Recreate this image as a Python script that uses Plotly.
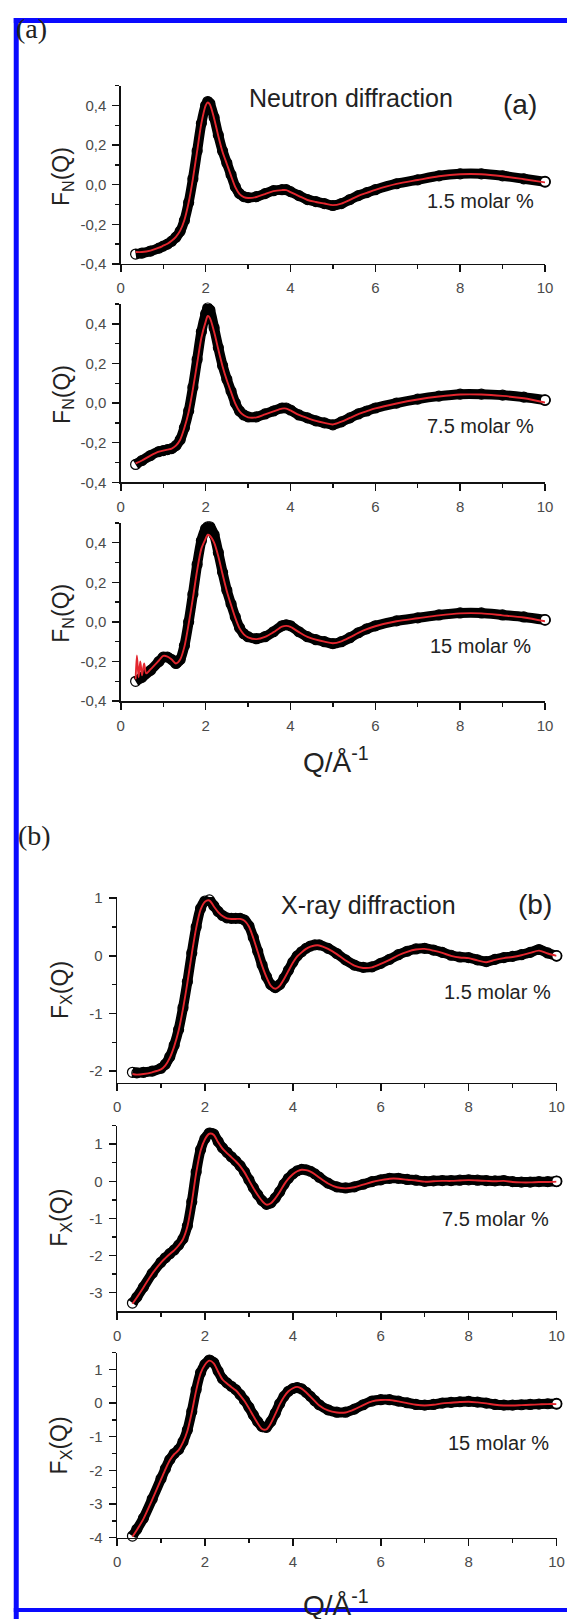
import plotly.graph_objects as go

W, H = 567, 1619
FONT = "Liberation Sans, Arial, Helvetica, sans-serif"
SERIF = "Liberation Serif, Times New Roman, serif"

# ---------------- data ----------------
q_a = [0.35, 0.5, 0.7, 0.9, 1.0, 1.1, 1.2, 1.3, 1.4, 1.5,
       1.6, 1.7, 1.8, 1.9, 2.0, 2.05, 2.1, 2.2, 2.3, 2.4,
       2.5, 2.6, 2.7, 2.8, 2.9, 3.0, 3.2, 3.4, 3.6, 3.8,
       3.9, 4.0, 4.2, 4.4, 4.6, 4.8, 5.0, 5.2, 5.4, 5.6,
       5.8, 6.0, 6.5, 7.0, 7.5, 8.0, 8.5, 9.0, 9.5, 10.0]

fn_15_exp = [-0.35, -0.345, -0.335, -0.32, -0.31, -0.30, -0.285, -0.265, -0.235, -0.18,
             -0.09, 0.03, 0.17, 0.31, 0.40, 0.42, 0.41, 0.34, 0.25, 0.17,
             0.11, 0.05, -0.01, -0.045, -0.06, -0.065, -0.06, -0.045, -0.03, -0.025,
             -0.025, -0.035, -0.055, -0.075, -0.085, -0.095, -0.105, -0.095, -0.075, -0.055,
             -0.04, -0.025, 0.005, 0.025, 0.045, 0.055, 0.055, 0.045, 0.03, 0.015]
fn_15_fit = [-0.34, -0.34, -0.333, -0.318, -0.308, -0.298, -0.283, -0.263, -0.232, -0.178,
             -0.09, 0.03, 0.17, 0.31, 0.40, 0.415, 0.405, 0.335, 0.245, 0.165,
             0.105, 0.045, -0.012, -0.047, -0.062, -0.067, -0.062, -0.047, -0.032, -0.027,
             -0.027, -0.037, -0.057, -0.077, -0.087, -0.095, -0.103, -0.095, -0.076, -0.056,
             -0.041, -0.026, 0.004, 0.024, 0.043, 0.053, 0.053, 0.043, 0.028, 0.012]

fn_75_exp = [-0.31, -0.29, -0.265, -0.245, -0.24, -0.235, -0.23, -0.215, -0.185, -0.125,
             -0.04, 0.08, 0.22, 0.36, 0.45, 0.48, 0.47, 0.38, 0.28, 0.19,
             0.12, 0.06, 0.0, -0.04, -0.06, -0.07, -0.07, -0.055, -0.04, -0.025,
             -0.025, -0.035, -0.06, -0.075, -0.09, -0.10, -0.11, -0.095, -0.075, -0.055,
             -0.04, -0.025, 0.0, 0.02, 0.035, 0.045, 0.045, 0.04, 0.03, 0.015]
fn_75_fit = [-0.305, -0.29, -0.265, -0.245, -0.24, -0.235, -0.23, -0.215, -0.185, -0.125,
             -0.045, 0.07, 0.2, 0.33, 0.41, 0.44, 0.43, 0.36, 0.27, 0.185,
             0.115, 0.055, -0.003, -0.042, -0.062, -0.072, -0.072, -0.057, -0.042, -0.028,
             -0.028, -0.037, -0.06, -0.076, -0.09, -0.10, -0.108, -0.094, -0.075, -0.056,
             -0.041, -0.027, -0.002, 0.018, 0.033, 0.043, 0.043, 0.036, 0.024, 0.003]

fn_150_exp = [-0.30, -0.28, -0.245, -0.20, -0.178, -0.178, -0.19, -0.21, -0.19, -0.12,
              0.0, 0.14, 0.29, 0.41, 0.47, 0.48, 0.48, 0.44, 0.35, 0.25,
              0.16, 0.09, 0.025, -0.03, -0.06, -0.075, -0.085, -0.075, -0.05, -0.02,
              -0.015, -0.02, -0.05, -0.075, -0.09, -0.10, -0.11, -0.10, -0.08, -0.055,
              -0.035, -0.02, 0.005, 0.02, 0.035, 0.045, 0.045, 0.035, 0.025, 0.01]
q_a3_fit = [0.35, 0.38, 0.42, 0.46, 0.5, 0.55, 0.6, 0.7,
            0.9, 1.0, 1.1, 1.2, 1.3, 1.4, 1.5,
            1.6, 1.7, 1.8, 1.9, 2.0, 2.05, 2.1, 2.2, 2.3, 2.4,
            2.5, 2.6, 2.7, 2.8, 2.9, 3.0, 3.2, 3.4, 3.6, 3.8,
            3.9, 4.0, 4.2, 4.4, 4.6, 4.8, 5.0, 5.2, 5.4, 5.6,
            5.8, 6.0, 6.5, 7.0, 7.5, 8.0, 8.5, 9.0, 9.5, 10.0]
fn_150_fit = [-0.29, -0.17, -0.28, -0.2, -0.27, -0.21, -0.26, -0.24,
              -0.195, -0.172, -0.175, -0.19, -0.21, -0.19, -0.125,
              -0.01, 0.12, 0.26, 0.37, 0.42, 0.44, 0.435, 0.40, 0.33, 0.24,
              0.155, 0.085, 0.02, -0.033, -0.063, -0.078, -0.087, -0.076, -0.052, -0.024,
              -0.02, -0.025, -0.052, -0.076, -0.09, -0.10, -0.108, -0.098, -0.078, -0.056,
              -0.037, -0.022, 0.003, 0.018, 0.033, 0.043, 0.043, 0.033, 0.022, 0.003]

q_b = [0.35, 0.45, 0.6, 0.8, 1.0, 1.1, 1.2, 1.3, 1.4, 1.5,
       1.6, 1.7, 1.8, 1.9, 2.0, 2.1, 2.2, 2.3, 2.4, 2.5,
       2.6, 2.7, 2.8, 2.9, 3.0, 3.1, 3.2, 3.3, 3.4, 3.5,
       3.6, 3.7, 3.8, 3.9, 4.0, 4.1, 4.2, 4.3, 4.4, 4.5,
       4.6, 4.8, 5.0, 5.2, 5.4, 5.6, 5.8, 6.0, 6.2, 6.4,
       6.6, 6.8, 7.0, 7.2, 7.4, 7.6, 7.8, 8.0, 8.2, 8.4,
       8.6, 8.8, 9.0, 9.2, 9.4, 9.6, 9.8, 10.0]

fx_15_exp = [-2.02, -2.03, -2.02, -2.0, -1.95, -1.88, -1.75, -1.55, -1.28, -0.90,
             -0.45, 0.05, 0.50, 0.82, 0.95, 0.97, 0.87, 0.77, 0.70, 0.66,
             0.65, 0.65, 0.65, 0.62, 0.52, 0.32, 0.08, -0.16, -0.36, -0.50,
             -0.55, -0.50, -0.39, -0.25, -0.11, 0.0, 0.07, 0.13, 0.17, 0.19,
             0.19, 0.13, 0.04, -0.07, -0.16, -0.20, -0.19, -0.13, -0.06, 0.02,
             0.08, 0.12, 0.13, 0.10, 0.06, 0.01, -0.02, -0.03, -0.07, -0.10,
             -0.06, -0.03, -0.01, 0.02, 0.06, 0.11, 0.05, 0.0]
fx_15_fit = [-2.05, -2.06, -2.05, -2.02, -1.97, -1.9, -1.77, -1.57, -1.3, -0.92,
             -0.47, 0.03, 0.48, 0.8, 0.94, 0.96, 0.86, 0.76, 0.69, 0.65,
             0.64, 0.64, 0.64, 0.61, 0.51, 0.31, 0.07, -0.17, -0.37, -0.52,
             -0.57, -0.52, -0.4, -0.26, -0.12, -0.01, 0.06, 0.12, 0.16, 0.18,
             0.18, 0.12, 0.03, -0.08, -0.17, -0.21, -0.2, -0.14, -0.07, 0.01,
             0.07, 0.11, 0.12, 0.09, 0.05, 0.0, -0.03, -0.04, -0.08, -0.11,
             -0.07, -0.04, -0.02, 0.01, 0.05, 0.09, 0.04, 0.0]

fx_75_exp = [-3.28, -3.12, -2.85, -2.48, -2.18, -2.06, -1.95, -1.85, -1.72, -1.55,
             -1.2, -0.55, 0.25, 0.85, 1.15, 1.30, 1.27, 1.07, 0.90, 0.78,
             0.66, 0.55, 0.42, 0.25, 0.04, -0.17, -0.36, -0.52, -0.62, -0.58,
             -0.45, -0.28, -0.08, 0.08, 0.20, 0.28, 0.32, 0.31, 0.27, 0.20,
             0.11, -0.05, -0.15, -0.18, -0.15, -0.08, -0.01, 0.04, 0.08, 0.08,
             0.05, 0.03, 0.0, 0.01, 0.02, 0.02, 0.03, 0.04, 0.03, 0.02,
             0.01, 0.02, -0.01, -0.02, -0.02, -0.01, -0.01, 0.0]
fx_75_fit = [-3.3, -3.13, -2.86, -2.49, -2.19, -2.07, -1.96, -1.86, -1.73, -1.56,
             -1.22, -0.58, 0.22, 0.82, 1.13, 1.28, 1.25, 1.05, 0.88, 0.76,
             0.65, 0.54, 0.41, 0.24, 0.03, -0.18, -0.37, -0.53, -0.63, -0.59,
             -0.46, -0.29, -0.09, 0.07, 0.19, 0.27, 0.31, 0.3, 0.26, 0.19,
             0.1, -0.06, -0.16, -0.19, -0.16, -0.09, -0.02, 0.03, 0.07, 0.07,
             0.04, 0.02, -0.01, 0.0, 0.01, 0.01, 0.02, 0.03, 0.02, 0.01,
             0.0, 0.01, -0.02, -0.03, -0.03, -0.02, -0.02, -0.01]

fx_150_exp = [-3.95, -3.75, -3.42, -2.85, -2.25, -1.95, -1.68, -1.50, -1.38, -1.15,
              -0.80, -0.25, 0.40, 0.90, 1.15, 1.28, 1.20, 0.95, 0.72, 0.60,
              0.50, 0.40, 0.25, 0.08, -0.12, -0.35, -0.55, -0.70, -0.72, -0.55,
              -0.30, -0.02, 0.20, 0.35, 0.43, 0.46, 0.42, 0.32, 0.20, 0.07,
              -0.05, -0.20, -0.27, -0.27, -0.18, -0.05, 0.06, 0.10, 0.10, 0.06,
              0.01, -0.04, -0.06, -0.04, 0.0, 0.02, 0.04, 0.05, 0.03, 0.0,
              -0.04, -0.06, -0.06, -0.05, -0.04, -0.03, -0.02, -0.02]
fx_150_fit = [-3.97, -3.77, -3.44, -2.87, -2.27, -1.97, -1.7, -1.52, -1.4, -1.17,
              -0.83, -0.28, 0.37, 0.88, 1.14, 1.26, 1.18, 0.93, 0.7, 0.58,
              0.48, 0.38, 0.23, 0.06, -0.15, -0.38, -0.6, -0.77, -0.78, -0.6,
              -0.33, -0.04, 0.19, 0.35, 0.44, 0.48, 0.43, 0.32, 0.19, 0.06,
              -0.07, -0.22, -0.28, -0.28, -0.19, -0.06, 0.05, 0.09, 0.09, 0.05,
              0.0, -0.05, -0.07, -0.05, -0.01, 0.01, 0.03, 0.04, 0.02, -0.01,
              -0.05, -0.07, -0.07, -0.06, -0.05, -0.04, -0.03, -0.03]

# tick labels
x_tick_vals = [0, 2, 4, 6, 8, 10]
x_tick_text = ["0", "2", "4", "6", "8", "10"]
x_minor_vals = [1, 3, 5, 7, 9]
a_ytick_vals = [-0.4, -0.2, 0.0, 0.2, 0.4]
a_ytick_text = ["-0,4", "-0,2", "0,0", "0,2", "0,4"]
a_yminor_vals = [-0.3, -0.1, 0.1, 0.3, 0.5]
b1_ytick_vals = [-2, -1, 0, 1]
b1_ytick_text = ["-2", "-1", "0", "1"]
b1_yminor_vals = [-1.5, -0.5, 0.5]
b2_ytick_vals = [-3, -2, -1, 0, 1]
b2_ytick_text = ["-3", "-2", "-1", "0", "1"]
b2_yminor_vals = [-2.5, -1.5, -0.5, 0.5, 1.5]
b3_ytick_vals = [-4, -3, -2, -1, 0, 1]
b3_ytick_text = ["-4", "-3", "-2", "-1", "0", "1"]
b3_yminor_vals = [-3.5, -2.5, -1.5, -0.5, 0.5, 1.5]

# ---------------- layout helpers ----------------
def xp(px):
    return px / W


def yp(py):
    return 1 - py / H


panels = [
    dict(q=q_a, exp=fn_15_exp, qf=q_a, fit=fn_15_fit, x0=119.3, x1=552.7, top=78.5, bot=258.5,
         yr=[-0.4, 0.5], yt=a_ytick_vals, ytt=a_ytick_text, ym=a_yminor_vals),
    dict(q=q_a, exp=fn_75_exp, qf=q_a, fit=fn_75_fit, x0=119.3, x1=552.7, top=299, bot=479,
         yr=[-0.4, 0.5], yt=a_ytick_vals, ytt=a_ytick_text, ym=a_yminor_vals),
    dict(q=q_a, exp=fn_150_exp, qf=q_a3_fit, fit=fn_150_fit, x0=119.3, x1=552.7, top=520, bot=700,
         yr=[-0.4, 0.5], yt=a_ytick_vals, ytt=a_ytick_text, ym=a_yminor_vals),
    dict(q=q_b, exp=fx_15_exp, qf=q_b, fit=fx_15_fit, x0=115.5, x1=564.5, top=897.9, bot=1085.4,
         yr=[-2.2, 1.02], yt=b1_ytick_vals, ytt=b1_ytick_text, ym=b1_yminor_vals),
    dict(q=q_b, exp=fx_75_exp, qf=q_b, fit=fx_75_fit, x0=115.5, x1=564.5, top=1128.75, bot=1316.25,
         yr=[-3.5, 1.5], yt=b2_ytick_vals, ytt=b2_ytick_text, ym=b2_yminor_vals),
    dict(q=q_b, exp=fx_150_exp, qf=q_b, fit=fx_150_fit, x0=115.5, x1=564.5, top=1358, bot=1545,
         yr=[-4, 1.5], yt=b3_ytick_vals, ytt=b3_ytick_text, ym=b3_yminor_vals),
]

AXCOL = "#111111"
axis_common = dict(showline=True, linecolor=AXCOL, linewidth=1.5, ticks="outside", ticklen=7,
                   tickwidth=1.5, tickcolor=AXCOL, showgrid=False, zeroline=False,
                   tickfont=dict(family=FONT, size=15, color="#4a4a4a"), fixedrange=True,
                   tickmode="array", ticklabelstandoff=3)

fig = go.Figure()
layout = dict(width=W, height=H, autosize=False, margin=dict(l=0, r=0, t=0, b=0),
              paper_bgcolor="white", plot_bgcolor="white", showlegend=False)

RED = "#e3262e"
for i, p in enumerate(panels, start=1):
    xa = "x" if i == 1 else f"x{i}"
    ya = "y" if i == 1 else f"y{i}"
    # experimental data: dense open circles -> thick black band
    fig.add_trace(go.Scatter(x=p["q"], y=p["exp"], xaxis=xa, yaxis=ya, mode="lines+markers",
                             line=dict(color="#000000", width=10, shape="spline", smoothing=0.8),
                             marker=dict(symbol="circle-open", size=10, color="#000000", line=dict(width=1.2)),
                             cliponaxis=False, hoverinfo="skip"))
    # last open circle (white inside)
    fig.add_trace(go.Scatter(x=[p["q"][-1]], y=[p["exp"][-1]], xaxis=xa, yaxis=ya, mode="markers",
                             marker=dict(symbol="circle", size=10, color="white",
                                         line=dict(color="#000000", width=1.8)),
                             cliponaxis=False, hoverinfo="skip"))
    # fit
    fig.add_trace(go.Scatter(x=p["qf"], y=p["fit"], xaxis=xa, yaxis=ya, mode="lines",
                             line=dict(color=RED, width=1.9, shape="spline", smoothing=0.8),
                             cliponaxis=False, hoverinfo="skip"))
    sfx = "" if i == 1 else str(i)
    layout["xaxis" + sfx] = dict(domain=[xp(p["x0"]), xp(p["x1"])], range=[0, 10], anchor=ya,
                                 tickvals=x_tick_vals, ticktext=x_tick_text,
                                 minor=dict(tickmode="array", tickvals=x_minor_vals, ticks="outside",
                                            ticklen=4, tickwidth=1.3, tickcolor=AXCOL),
                                 **axis_common)
    layout["yaxis" + sfx] = dict(domain=[yp(p["bot"]), yp(p["top"])], range=p["yr"], anchor=xa,
                                 tickvals=p["yt"], ticktext=p["ytt"],
                                 minor=dict(tickmode="array", tickvals=p["ym"], ticks="outside",
                                            ticklen=4, tickwidth=1.3, tickcolor=AXCOL),
                                 **axis_common)


def ann(text, px, py, size, family=FONT, color="#222222", xanchor="center", angle=0):
    return dict(text=text, x=xp(px), y=yp(py), xref="paper", yref="paper", showarrow=False,
                xanchor=xanchor, yanchor="middle", textangle=angle,
                font=dict(family=family, size=size, color=color))


annotations = [
    ann("(a)", 10, 21, 28, family=SERIF, xanchor="left"),
    ann("(b)", 12, 836, 28, family=SERIF, xanchor="left"),
    ann("Neutron diffraction", 354, 91, 25),
    ann("(a)", 527, 97, 28),
    ann("1.5 molar %", 487, 195, 20),
    ann("7.5 molar %", 487, 422, 20),
    ann("15 molar %", 487, 644, 20),
    ann("X-ray diffraction", 372, 906, 25),
    ann("(b)", 542, 905, 28),
    ann("1.5 molar %", 504, 994, 20),
    ann("7.5 molar %", 502, 1223, 20),
    ann("15 molar %", 505, 1449, 20),
    ann("F<sub>N</sub>(Q)", 60, 170, 23, angle=-90),
    ann("F<sub>N</sub>(Q)", 60, 390, 23, angle=-90),
    ann("F<sub>N</sub>(Q)", 60, 611, 23, angle=-90),
    ann("F<sub>X</sub>(Q)", 58, 992, 23, angle=-90),
    ann("F<sub>X</sub>(Q)", 58, 1222, 23, angle=-90),
    ann("F<sub>X</sub>(Q)", 58, 1452, 23, angle=-90),
    ann("Q/Å<sup>-1</sup>", 339, 760, 28),
    ann("Q/Å<sup>-1</sup>", 339, 1611, 28),
]
layout["annotations"] = annotations

BLUE = "#0a0aff"
layout["shapes"] = [
    dict(type="line", xref="paper", yref="paper", x0=xp(10), x1=1.05, y0=yp(12.5), y1=yp(12.5),
         line=dict(color=BLUE, width=5), layer="above"),
    dict(type="line", xref="paper", yref="paper", x0=xp(12.5), x1=xp(12.5), y0=yp(10), y1=-0.01,
         line=dict(color=BLUE, width=5), layer="above"),
    dict(type="line", xref="paper", yref="paper", x0=xp(10), x1=1.05, y0=yp(1618), y1=yp(1618),
         line=dict(color=BLUE, width=4), layer="above"),
]

fig.update_layout(**layout)
fig.write_html("out.html", include_plotlyjs=True, full_html=True,
               config={"displayModeBar": False, "staticPlot": True},
               post_script="document.body.style.margin='0';")
